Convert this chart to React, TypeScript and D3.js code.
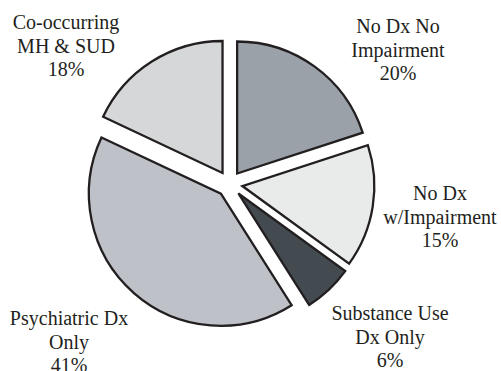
import React from "react";
import * as d3 from "d3";

// Share of respondents by diagnostic group, clockwise from 12 o'clock
const categories = [
  "No Dx No Impairment",
  "No Dx w/Impairment",
  "Substance Use Dx Only",
  "Psychiatric Dx Only",
  "Co-occurring MH & SUD",
];
const percents = [20, 15, 6, 41, 18];
const labelLines = [
  ["No Dx No", "Impairment"],
  ["No Dx", "w/Impairment"],
  ["Substance Use", "Dx Only"],
  ["Psychiatric Dx", "Only"],
  ["Co-occurring", "MH & SUD"],
];
const fills = ["#9ba1a8", "#e9ebea", "#434b50", "#bec2c8", "#d5d7d9"];

const WIDTH = 501;
const HEIGHT = 371;
const CX = 229.5;
const CY = 184;
const RADIUS = 132;
const EXPLODE = 13;
const INK = "#231f20";
const LINE_GAP = 23.7;

// label anchors (centre x, first baseline y) for each slice
const labelAnchors: [number, number][] = [
  [398, 33],
  [440, 200],
  [390, 320],
  [69, 325],
  [66, 29],
];

const css = `
.pie-label { font-family: "Liberation Serif", "Times New Roman", Times, serif !important; font-size: 20px; }
`;

export default function App() {
  const pie = d3
    .pie<number>()
    .sort(null)
    .value((d) => d)
    .startAngle(0)
    .endAngle(2 * Math.PI);
  const arcs = pie(percents);
  const arc = d3.arc<d3.PieArcDatum<number>>().innerRadius(0).outerRadius(RADIUS);

  return (
    <svg
      width={WIDTH}
      height={HEIGHT}
      style={{ position: "absolute", left: 0, top: 0, background: "#fff" }}
    >
      <style>{css}</style>
      <g transform={`translate(${CX},${CY})`}>
        {arcs.map((a, i) => {
          const mid = (a.startAngle + a.endAngle) / 2;
          const dx = Math.sin(mid) * EXPLODE;
          const dy = -Math.cos(mid) * EXPLODE;
          return (
            <path
              key={categories[i]}
              d={arc(a) ?? ""}
              transform={`translate(${dx},${dy})`}
              fill={fills[i]}
              stroke={INK}
              strokeWidth={2.3}
              strokeLinejoin="miter"
            />
          );
        })}
      </g>
      {arcs.map((a, i) => {
        const [x, y] = labelAnchors[i];
        const lines = [...labelLines[i], `${percents[i]}%`];
        return lines.map((ln, j) => (
          <text
            key={`${i}-${j}`}
            className="pie-label"
            x={x}
            y={y + j * LINE_GAP}
            fill={INK}
            textAnchor="middle"
          >
            {ln}
          </text>
        ));
      })}
    </svg>
  );
}
